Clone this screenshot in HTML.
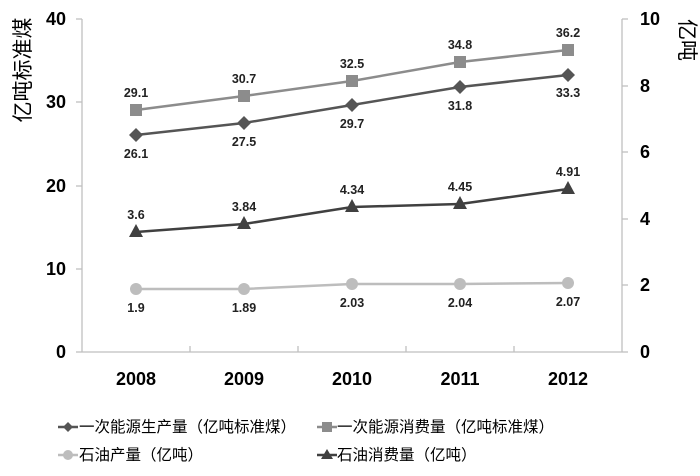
<!DOCTYPE html>
<html><head><meta charset="utf-8"><style>
html,body{margin:0;padding:0;background:#fff;}
svg text{font-family:"Liberation Sans","Noto Sans CJK SC",sans-serif;}
</style></head><body>
<svg width="700" height="471" viewBox="0 0 700 471" xmlns="http://www.w3.org/2000/svg">
<g stroke="#bfbfbf" stroke-width="1.3" fill="none">
<line x1="82" y1="19" x2="82" y2="352"/>
<line x1="622" y1="19" x2="622" y2="352"/>
<line x1="82" y1="352" x2="622" y2="352"/>
<line x1="76" y1="19" x2="82" y2="19"/><line x1="76" y1="102" x2="82" y2="102"/><line x1="76" y1="186" x2="82" y2="186"/><line x1="76" y1="269" x2="82" y2="269"/><line x1="76" y1="352" x2="82" y2="352"/>
<line x1="622" y1="19" x2="628" y2="19"/><line x1="622" y1="86" x2="628" y2="86"/><line x1="622" y1="152" x2="628" y2="152"/><line x1="622" y1="219" x2="628" y2="219"/><line x1="622" y1="285" x2="628" y2="285"/><line x1="622" y1="352" x2="628" y2="352"/>
<line x1="190" y1="346" x2="190" y2="352"/><line x1="298" y1="346" x2="298" y2="352"/><line x1="406" y1="346" x2="406" y2="352"/><line x1="514" y1="346" x2="514" y2="352"/>
</g>
<g font-size="18" font-weight="bold" fill="#000" text-anchor="end">
<text x="66" y="25">40</text><text x="66" y="108">30</text><text x="66" y="192">20</text><text x="66" y="275">10</text><text x="66" y="358">0</text>
</g>
<g font-size="18" font-weight="bold" fill="#000" text-anchor="start">
<text x="640" y="25">10</text><text x="640" y="92">8</text><text x="640" y="158">6</text><text x="640" y="225">4</text><text x="640" y="291">2</text><text x="640" y="358">0</text>
</g>
<g font-size="18" font-weight="bold" fill="#000" text-anchor="middle">
<text x="136" y="385">2008</text><text x="244" y="385">2009</text><text x="352" y="385">2010</text><text x="460" y="385">2011</text><text x="568" y="385">2012</text>
</g>
<text transform="translate(30,70) rotate(-90)" font-size="21" text-anchor="middle" fill="#000">亿吨标准煤</text>
<text transform="translate(680,40) rotate(90)" font-size="21" text-anchor="middle" fill="#000">亿吨</text>
<polyline points="136,110 244,96 352,81 460,62 568,50" stroke="#8c8c8c" stroke-width="2.5" fill="none"/>
<g fill="#8c8c8c"><rect x="130" y="104" width="12" height="12"/><rect x="238" y="90" width="12" height="12"/><rect x="346" y="75" width="12" height="12"/><rect x="454" y="56" width="12" height="12"/><rect x="562" y="44" width="12" height="12"/></g>
<polyline points="136,135 244,123 352,105 460,87 568,75" stroke="#555" stroke-width="2.5" fill="none"/>
<g fill="#555"><path d="M136,128 l7,7 -7,7 -7,-7z"/><path d="M244,116 l7,7 -7,7 -7,-7z"/><path d="M352,98 l7,7 -7,7 -7,-7z"/><path d="M460,80 l7,7 -7,7 -7,-7z"/><path d="M568,68 l7,7 -7,7 -7,-7z"/></g>
<polyline points="136,232 244,224 352,207 460,204 568,189" stroke="#404040" stroke-width="2.5" fill="none"/>
<g fill="#404040"><path d="M136,224 l7,13 h-14z"/><path d="M244,216 l7,13 h-14z"/><path d="M352,199 l7,13 h-14z"/><path d="M460,196 l7,13 h-14z"/><path d="M568,181 l7,13 h-14z"/></g>
<polyline points="136,289 244,289 352,284 460,284 568,283" stroke="#bdbdbd" stroke-width="2.5" fill="none"/>
<g fill="#bdbdbd"><circle cx="136" cy="289" r="6"/><circle cx="244" cy="289" r="6"/><circle cx="352" cy="284" r="6"/><circle cx="460" cy="284" r="6"/><circle cx="568" cy="283" r="6"/></g>
<g font-size="12.5" font-weight="bold" fill="#222" text-anchor="middle">
<text x="136" y="97">29.1</text><text x="244" y="83">30.7</text><text x="352" y="68">32.5</text><text x="460" y="49">34.8</text><text x="568" y="37">36.2</text>
<text x="136" y="158">26.1</text><text x="244" y="146">27.5</text><text x="352" y="128">29.7</text><text x="460" y="110">31.8</text><text x="568" y="97">33.3</text>
<text x="136" y="219">3.6</text><text x="244" y="211">3.84</text><text x="352" y="194">4.34</text><text x="460" y="191">4.45</text><text x="568" y="176">4.91</text>
<text x="136" y="312">1.9</text><text x="244" y="312">1.89</text><text x="352" y="307">2.03</text><text x="460" y="307">2.04</text><text x="568" y="306">2.07</text>
</g>
<g font-size="15.5" fill="#000">
<line x1="58" y1="427" x2="78" y2="427" stroke="#555" stroke-width="2.5"/><path d="M68,422 l5,5 -5,5 -5,-5z" fill="#555"/>
<text x="79" y="432">一次能源生产量（亿吨标准煤）</text>
<line x1="317" y1="427" x2="337" y2="427" stroke="#8c8c8c" stroke-width="2.5"/><rect x="322" y="422" width="10" height="10" fill="#8c8c8c"/>
<text x="337" y="432">一次能源消费量（亿吨标准煤）</text>
<line x1="58" y1="455" x2="78" y2="455" stroke="#bdbdbd" stroke-width="2.5"/><circle cx="68" cy="455" r="5" fill="#bdbdbd"/>
<text x="79" y="460">石油产量（亿吨）</text>
<line x1="317" y1="455" x2="337" y2="455" stroke="#404040" stroke-width="2.5"/><path d="M327,449 l6,10 h-12z" fill="#404040"/>
<text x="337" y="460">石油消费量（亿吨）</text>
</g>
</svg>
</body></html>
